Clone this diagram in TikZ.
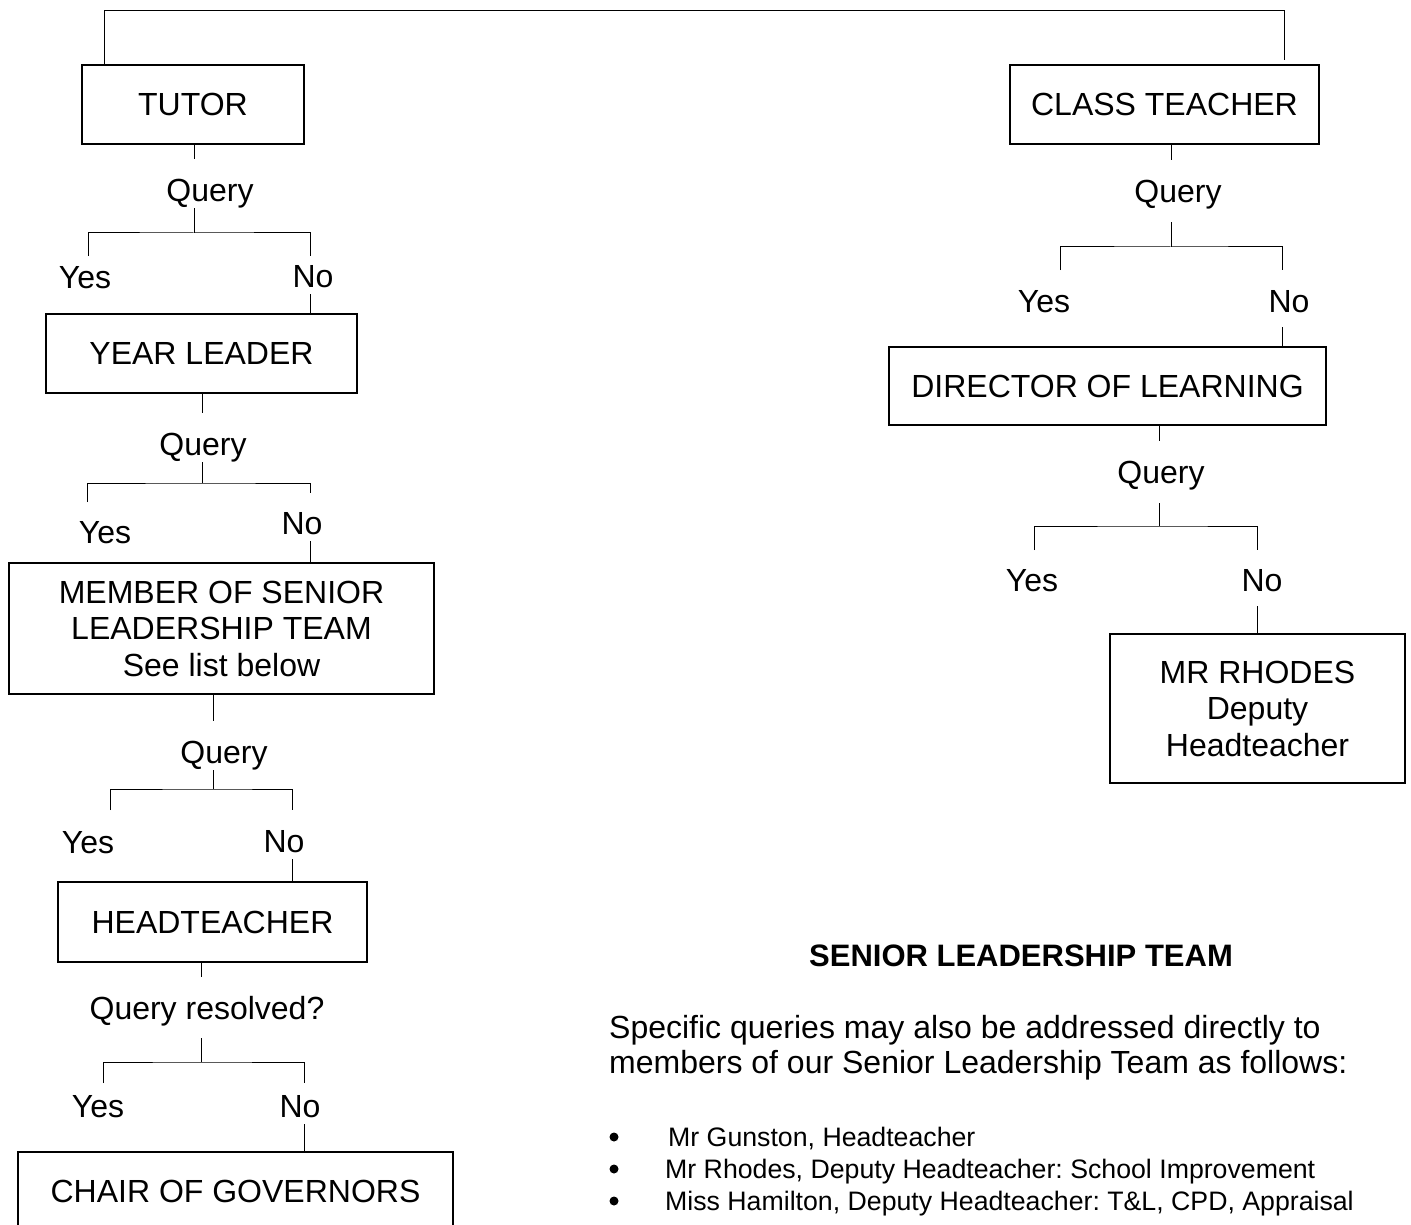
\documentclass[tikz,border=0pt]{standalone}
\usepackage{fontspec}
\setmainfont{Liberation Sans}
\usetikzlibrary{calc,positioning}
\frenchspacing

\begin{document}
\begin{tikzpicture}[x=1pt,y=-1pt,
		box/.style={draw,line width=2pt,align=center,inner sep=0pt,font=\fontsize{32}{36.5}\selectfont},
		lbl/.style={anchor=base,inner sep=0pt,text height=23pt,text depth=6.7pt,font=\fontsize{32}{36.5}\selectfont},
		link/.style={line width=1pt},
		stub/.style={link,shorten >=19pt},
		item/.style={anchor=base west,inner sep=0pt,font=\fontsize{26.7}{32}\selectfont}]
		\useasboundingbox (0,0) rectangle (1411,1225);
		% boxes
		\node[box,minimum width=222pt,minimum height=79pt] (tutor) at (193,104.5) {TUTOR};
		\node[box,minimum width=311pt,minimum height=79pt] (yearleader) at (201.5,353.5) {YEAR LEADER};
		\node[box,minimum width=425pt,minimum height=131pt] (slt) at (221.5,628.5) {MEMBER OF SENIOR\\LEADERSHIP TEAM\\See list below};
		\node[box,minimum width=309pt,minimum height=80pt] (head) at (212.5,922) {HEADTEACHER};
		\node[box,minimum width=435pt,minimum height=79pt] (chair) at (235.5,1191.5) {CHAIR OF GOVERNORS};
		\node[box,minimum width=309pt,minimum height=79pt] (classteacher) at (1164.5,104.5) {CLASS TEACHER};
		\node[box,minimum width=437pt,minimum height=78pt] (director) at (1107.5,386) {DIRECTOR OF LEARNING};
		\node[box,minimum width=295pt,minimum height=149pt] (rhodes) at (1257.5,708.5) {MR RHODES\\Deputy\\Headteacher};
		% labels
		\node[lbl] (q1) at (210,201.5) {Query};
		\node[lbl] (y1) at (85,288.5) {Yes};
		\node[lbl] (n1) at (313,287.5) {No};
		\node[lbl] (q2) at (203,455.5) {Query};
		\node[lbl] (y2) at (105,543.5) {Yes};
		\node[lbl] (n2) at (302,534.5) {No};
		\node[lbl] (q3) at (224,763.5) {Query};
		\node[lbl] (y3) at (88,853.5) {Yes};
		\node[lbl] (n3) at (284,852.5) {No};
		\node[lbl] (q4) at (207,1019.5) {Query resolved?};
		\node[lbl] (y4) at (98,1117.5) {Yes};
		\node[lbl] (n4) at (300,1117.5) {No};
		\node[lbl] (q5) at (1178,202.5) {Query};
		\node[lbl] (y5) at (1044,312.5) {Yes};
		\node[lbl] (n5) at (1289,312.5) {No};
		\node[lbl] (q6) at (1161,483.5) {Query};
		\node[lbl] (y6) at (1032,591.5) {Yes};
		\node[lbl] (n6) at (1262,591.5) {No};
		% forks
		\coordinate (f1) at (194,233);  \coordinate (f1l) at (88,256);   \coordinate (f1r) at (310,256);
		\coordinate (f2) at (202,483);  \coordinate (f2l) at (87,502);   \coordinate (f2r) at (310,493);
		\coordinate (f3) at (213,789);  \coordinate (f3l) at (110,810);  \coordinate (f3r) at (292,810);
		\coordinate (f4) at (201,1062); \coordinate (f4l) at (103,1083); \coordinate (f4r) at (304,1083);
		\coordinate (f5) at (1171,247); \coordinate (f5l) at (1060,270); \coordinate (f5r) at (1282,270);
		\coordinate (f6) at (1159,526); \coordinate (f6l) at (1034,550); \coordinate (f6r) at (1257,550);
		\coordinate (topl) at (104,11);
		\coordinate (topr) at (1284,11);
		% connectors
		\draw[link] (tutor.north -| topl) -- (topl) -- (topr) -- ([yshift=4pt]classteacher.north -| topr);
		\draw[stub] (tutor.south -| f1) -- (f1 |- q1.north);
		\draw[link] (q1.south -| f1) -- (f1);
		\draw[link] (f1l) |- (f1) -| (f1r);
		\draw[link] (f1r |- n1.south) -- (f1r |- yearleader.north);
		\draw[stub] (yearleader.south -| f2) -- (f2 |- q2.north);
		\draw[link] (q2.south -| f2) -- (f2);
		\draw[link] (f2l) |- (f2) -| (f2r);
		\draw[link] (f2r |- n2.south) -- (f2r |- slt.north);
		\draw[stub] (slt.south -| f3) -- (f3 |- q3.north);
		\draw[link] (q3.south -| f3) -- (f3);
		\draw[link] (f3l) |- (f3) -| (f3r);
		\draw[link] (f3r |- n3.south) -- (f3r |- head.north);
		\draw[stub] (head.south -| f4) -- (f4 |- q4.north);
		\draw[link,shorten <=12pt] (q4.south -| f4) -- (f4);
		\draw[link] (f4l) |- (f4) -| (f4r);
		\draw[link] (f4r |- n4.south) -- (f4r |- chair.north);
		\draw[stub] (classteacher.south -| f5) -- (f5 |- q5.north);
		\draw[link,shorten <=13pt] (q5.south -| f5) -- (f5);
		\draw[link] (f5l) |- (f5) -| (f5r);
		\draw[link,shorten <=8pt] (f5r |- n5.south) -- (f5r |- director.north);
		\draw[stub] (director.south -| f6) -- (f6 |- q6.north);
		\draw[link,shorten <=13pt] (q6.south -| f6) -- (f6);
		\draw[link] (f6l) |- (f6) -| (f6r);
		\draw[link,shorten <=8pt] (f6r |- n6.south) -- (f6r |- rhodes.north);
		% senior leadership team
		\node[anchor=base,inner sep=0pt,font=\bfseries\fontsize{31}{35}\selectfont] (slthead) at (1021,966) {SENIOR LEADERSHIP TEAM};
		\node[anchor=north west,inner sep=0pt,align=left,font=\fontsize{32}{35}\selectfont] (intro) at (609,1015.5) {Specific queries may also be addressed directly to\\members of our Senior Leadership Team as follows:};
		\foreach \y in {1137,1169,1201}
			\fill (614,\y) circle (4.5);
		\node[item] (gunston) at (668,1146.5) {Mr Gunston, Headteacher};
		\node[item] (rhodesitem) at (665,1178.5) {Mr Rhodes, Deputy Headteacher: School Improvement};
		\node[item] (hamilton) at (665,1210.5) {Miss Hamilton, Deputy Headteacher: T\&L, CPD, Appraisal};
\end{tikzpicture}
\end{document}
